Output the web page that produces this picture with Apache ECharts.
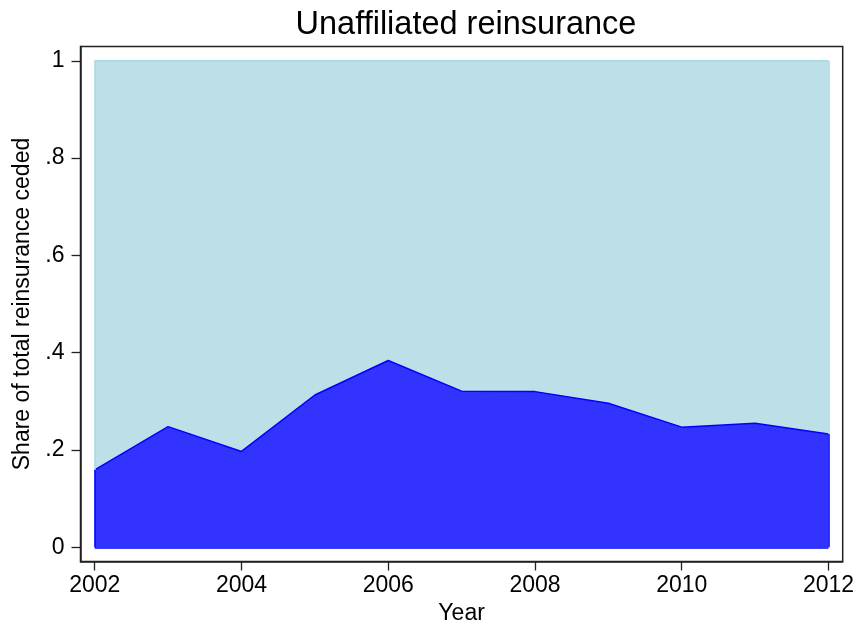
<!DOCTYPE html>
<html>
<head>
<meta charset="utf-8">
<script src="https://cdn.jsdelivr.net/npm/echarts@6/dist/echarts.min.js"></script>
<style>html,body{margin:0;padding:0;background:#fff}#c{width:857px;height:625px}</style>
</head>
<body>
<div id="c"></div>
<script>
const years = [2002, 2003, 2004, 2005, 2006, 2007, 2008, 2009, 2010, 2011, 2012];
const unaffiliated = [0.159, 0.248, 0.197, 0.313, 0.384, 0.321, 0.320, 0.296, 0.247, 0.255, 0.233];
const total = [1, 1, 1, 1, 1, 1, 1, 1, 1, 1, 1];
const xTicks = [2002, 2004, 2006, 2008, 2010, 2012];
const yTicks = [0, 0.2, 0.4, 0.6, 0.8, 1];
const yTickLabels = ['0', '.2', '.4', '.6', '.8', '1'];

const FONT = "'Liberation Sans', Arial, Helvetica, sans-serif";
const chart = echarts.init(document.getElementById('c'), null, {renderer: 'canvas'});

const totalData = years.map((y, i) => [y, total[i]]);
const unaffData = years.map((y, i) => [y, unaffiliated[i]]);
const n = years.length - 1;

function edge(x, y0, y1) { return [{coord: [x, y0]}, {coord: [x, y1]}]; }

chart.setOption({
  animation: false,
  backgroundColor: '#ffffff',
  title: {
    text: 'Unaffiliated reinsurance',
    left: 461, top: 4, textAlign: 'center',
    textStyle: {fontFamily: FONT, fontSize: 32.5, fontWeight: 'normal', color: '#000'}
  },
  grid: {
    left: 80.5, right: 14.3, top: 46.5, bottom: 63.5,
    outerBoundsMode: 'none', containLabel: false,
    show: true, borderColor: '#222', borderWidth: 1.5, backgroundColor: 'transparent'
  },
  xAxis: {
    type: 'value', min: 2001.806, max: 2012.194,
    name: 'Year', nameLocation: 'middle', nameGap: 32,
    nameTextStyle: {fontFamily: FONT, fontSize: 23, color: '#000'},
    axisLine: {show: true, onZero: false, lineStyle: {color: '#222', width: 1.5}},
    axisTick: {show: true, length: 9, customValues: xTicks, lineStyle: {color: '#222', width: 1.3}},
    axisLabel: {customValues: xTicks, margin: 13, fontFamily: FONT, fontSize: 23, color: '#000',
      formatter: v => String(v)},
    splitLine: {show: false}
  },
  yAxis: {
    type: 'value', min: -0.0292, max: 1.0294,
    name: 'Share of total reinsurance ceded', nameLocation: 'middle', nameGap: 44, nameRotate: 90,
    nameTextStyle: {fontFamily: FONT, fontSize: 23, color: '#000'},
    axisLine: {show: true, onZero: false, lineStyle: {color: '#222', width: 1.5}},
    axisTick: {show: true, length: 9, customValues: yTicks, lineStyle: {color: '#222', width: 1.3}},
    axisLabel: {customValues: yTicks, margin: 16, fontFamily: FONT, fontSize: 23, color: '#000',
      formatter: v => {
        const i = yTicks.findIndex(t => Math.abs(t - v) < 1e-6);
        return i >= 0 ? yTickLabels[i] : '';
      }},
    splitLine: {show: false}
  },
  series: [
    {
      type: 'line', data: totalData, symbol: 'none',
      lineStyle: {color: '#a8d8e6', width: 1.5},
      areaStyle: {color: '#bddfe8', opacity: 1},
      markLine: {
        silent: true, symbol: 'none', label: {show: false},
        lineStyle: {color: '#a8d8e6', width: 1.5, type: 'solid'},
        data: [edge(years[0], unaffiliated[0], total[0]), edge(years[n], unaffiliated[n], total[n])]
      }
    },
    {
      type: 'line', data: unaffData, symbol: 'none',
      lineStyle: {color: '#0000ff', width: 1.5},
      areaStyle: {color: '#3333ff', opacity: 1},
      markLine: {
        silent: true, symbol: 'none', label: {show: false},
        lineStyle: {color: '#0000ff', width: 1.5, type: 'solid'},
        data: [edge(years[0], 0, unaffiliated[0]), edge(years[n], 0, unaffiliated[n]),
               [{coord: [years[0], 0]}, {coord: [years[n], 0]}]]
      }
    }
  ]
});
</script>
</body>
</html>
